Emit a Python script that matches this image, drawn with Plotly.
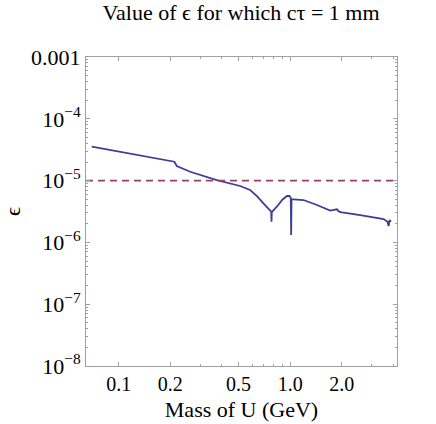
import plotly.graph_objects as go

# --- Data ------------------------------------------------------------------
mass_gev = [0.0696, 0.10, 0.15, 0.211, 0.218, 0.261, 0.373, 0.511, 0.584,
            0.640, 0.698, 0.760, 0.775, 0.778, 0.781, 0.836, 0.900, 0.957,
            0.991, 1.008, 1.013, 1.018, 1.045, 1.196, 1.432, 1.601, 1.712,
            1.80, 1.874, 1.93, 2.004, 2.563, 3.505, 3.70, 3.75, 3.80, 3.87]
epsilon = [3.54e-5, 2.94e-5, 2.42e-5, 2.02e-5, 1.72e-5, 1.39e-5, 1.02e-5, 8.18e-6, 7.05e-6,
           5.60e-6, 4.29e-6, 3.40e-6, 3.14e-6, 2.16e-6, 3.10e-6, 3.78e-6, 4.90e-6, 5.63e-6,
           5.63e-6, 5.20e-6, 1.32e-6, 5.00e-6, 4.98e-6, 4.85e-6, 4.03e-6, 3.56e-6, 3.26e-6,
           3.35e-6, 3.43e-6, 3.15e-6, 3.07e-6, 2.77e-6, 2.39e-6, 2.16e-6, 1.84e-6, 2.30e-6, 2.16e-6]

eps_ref = 1e-5
x_range = [0.0644, 4.2]

y_tickvals = [1e-8, 1e-7, 1e-6, 1e-5, 1e-4, 1e-3]
y_ticktext = ["10<sup>\u22128</sup>", "10<sup>\u22127</sup>", "10<sup>\u22126</sup>",
              "10<sup>\u22125</sup>", "10<sup>\u22124</sup>", "0.001"]
x_tickvals = [0.1, 0.2, 0.5, 1.0, 2.0]
x_ticktext = ["0.1", "0.2", "0.5", "1.0", "2.0"]
x_minor = [0.3, 0.4, 0.6, 0.7, 0.8, 0.9, 3.0, 4.0]
y_minor = [m * 10.0 ** e for e in range(-8, -3) for m in range(2, 10)]

BLUE = "#3d3d99"
PURPLE = "#993d71"
FRAME = "#a0a0a0"
FONT = "Liberation Serif"

# --- Figure -----------------------------------------------------------------
fig = go.Figure()

fig.add_trace(go.Scatter(x=mass_gev, y=epsilon, mode="lines",
                         line=dict(color=BLUE, width=1.8), showlegend=False))
fig.add_trace(go.Scatter(x=x_range, y=[eps_ref, eps_ref], mode="lines",
                         line=dict(color=PURPLE, width=1.6, dash="7px,5px"),
                         showlegend=False))

axis_common = dict(
    showline=True, linecolor=FRAME, linewidth=1, mirror="ticks",
    ticks="inside", ticklen=4, tickcolor=FRAME, showgrid=False, zeroline=False,
    automargin=False,
)

fig.update_xaxes(type="log", range=[-1.191, 0.623],
                 tickvals=x_tickvals, ticktext=x_ticktext,
                 minor=dict(tickmode="array", tickvals=x_minor, ticks="inside",
                            ticklen=2, tickcolor=FRAME, showgrid=False),
                 tickfont=dict(family=FONT, size=20, color="black"),
                 title=dict(text="Mass of U (GeV)", standoff=7,
                            font=dict(family=FONT, size=22, color="black")),
                 **axis_common)
fig.update_yaxes(type="log", range=[-8, -3],
                 tickvals=y_tickvals, ticktext=y_ticktext,
                 minor=dict(tickmode="array", tickvals=y_minor, ticks="inside",
                            ticklen=2, tickcolor=FRAME, showgrid=False),
                 tickfont=dict(family=FONT, size=22, color="black"),
                 title=dict(text="\u03f5", standoff=14,
                            font=dict(family=FONT, size=22, color="black")),
                 **axis_common)

fig.update_layout(
    width=436, height=424,
    margin=dict(l=86, r=39, t=57, b=58),
    paper_bgcolor="white", plot_bgcolor="white",
    title=dict(text="Value of \u03f5 for which c\u03c4 = 1 mm",
               x=0.553, xanchor="center", y=0.99, yanchor="top",
               font=dict(family=FONT, size=22, color="black")),
)

# page body margin off so the figure sits at the window origin
fig.write_html("out.html", config={"displayModeBar": False},
               post_script="document.body.style.margin='0';")
